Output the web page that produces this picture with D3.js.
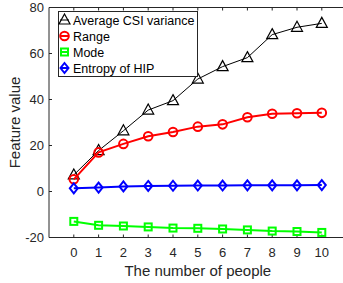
<!DOCTYPE html>
<html>
<head>
<meta charset="utf-8">
<script src="https://cdn.jsdelivr.net/npm/d3@7"></script>
<style>
    body { margin: 0; background: #fff; }
    svg { display: block; font-family: Arial, "Liberation Sans", sans-serif; }
</style>
</head>
<body>
<div id="vis"></div>
<script>
const people = [0, 1, 2, 3, 4, 5, 6, 7, 8, 9, 10];
const csiVariance = [7.2, 17.8, 26.4, 35.4, 39.5, 48.9, 54.3, 58.2, 68.2, 71.4, 73.1];
const range = [5.3, 17, 20.7, 24, 25.9, 28.2, 29.2, 32.3, 33.8, 34, 34.2];
const mode = [-13, -14.7, -15, -15.4, -15.9, -16, -16.3, -16.7, -17.2, -17.4, -17.8];
const entropy = [1.4, 1.7, 2.2, 2.4, 2.5, 2.6, 2.6, 2.7, 2.7, 2.7, 2.8];
const yTicks = [-20, 0, 20, 40, 60, 80];

const series = [
    { name: "Average CSI variance", values: csiVariance, color: "#000", width: 1, marker: "triangle" },
    { name: "Range", values: range, color: "#ff0000", width: 2, marker: "circle" },
    { name: "Mode", values: mode, color: "#00ff00", width: 2, marker: "square" },
    { name: "Entropy of HIP", values: entropy, color: "#0000ff", width: 2, marker: "diamond" }
];

const W = 343, H = 283;
const margin = { left: 49, top: 7.5, right: 0, bottom: 45.5 };
const axisColor = "#262626";

const x = d3.scaleLinear().domain([-1, 11]).range([margin.left, margin.left + 12 * 24.8]);
const y = d3.scaleLinear().domain([-20, 80]).range([H - margin.bottom, margin.top]);

const svg = d3.select("#vis").append("svg")
    .attr("width", W)
    .attr("height", H);

// axes box (right side runs off the window)
const gAxis = svg.append("g").attr("fill", "none").attr("stroke", axisColor).attr("stroke-width", 1);
gAxis.append("path")
    .attr("d", `M${x(11)},${y(80)}H${x(-1)}V${y(-20)}H${x(11)}V${y(80)}`);

// inward ticks
people.forEach(p => {
    gAxis.append("line").attr("x1", x(p)).attr("x2", x(p)).attr("y1", y(-20)).attr("y2", y(-20) - 3);
    gAxis.append("line").attr("x1", x(p)).attr("x2", x(p)).attr("y1", y(80)).attr("y2", y(80) + 3);
});
yTicks.forEach(t => {
    gAxis.append("line").attr("x1", x(-1)).attr("x2", x(-1) + 3).attr("y1", y(t)).attr("y2", y(t));
    gAxis.append("line").attr("x1", x(11)).attr("x2", x(11) - 3).attr("y1", y(t)).attr("y2", y(t));
});

// tick labels
svg.append("g").selectAll("text")
    .data(people)
    .join("text")
    .attr("x", d => x(d))
    .attr("y", y(-20) + 19)
    .attr("text-anchor", "middle")
    .attr("font-size", 13)
    .attr("fill", axisColor)
    .text(d => d);

svg.append("g").selectAll("text")
    .data(yTicks)
    .join("text")
    .attr("x", x(-1) - 5)
    .attr("y", d => y(d))
    .attr("dy", "0.35em")
    .attr("text-anchor", "end")
    .attr("font-size", 13)
    .attr("fill", axisColor)
    .text(d => d);

svg.append("text")
    .attr("x", x(5))
    .attr("y", 276)
    .attr("text-anchor", "middle")
    .attr("font-size", 15)
    .attr("fill", axisColor)
    .text("The number of people");

svg.append("text")
    .attr("transform", `translate(20,${(y(80) + y(-20)) / 2}) rotate(-90)`)
    .attr("text-anchor", "middle")
    .attr("font-size", 15)
    .attr("fill", axisColor)
    .text("Feature value");

function drawMarker(g, type, color, cx, cy) {
    if (type === "triangle") {
        g.append("path").attr("d", `M${cx},${cy - 6}L${cx + 5.5},${cy + 4}L${cx - 5.5},${cy + 4}Z`)
            .attr("fill", "none").attr("stroke", color).attr("stroke-width", 1.2);
    } else if (type === "circle") {
        g.append("circle").attr("cx", cx).attr("cy", cy).attr("r", 4.3)
            .attr("fill", "none").attr("stroke", color).attr("stroke-width", 2);
    } else if (type === "square") {
        g.append("rect").attr("x", cx - 3.5).attr("y", cy - 3.5).attr("width", 7).attr("height", 7)
            .attr("fill", "none").attr("stroke", color).attr("stroke-width", 2);
    } else {
        g.append("path").attr("d", `M${cx},${cy - 5}L${cx + 4},${cy}L${cx},${cy + 5}L${cx - 4},${cy}Z`)
            .attr("fill", "none").attr("stroke", color).attr("stroke-width", 2);
    }
}

const line = d3.line().x((d, i) => x(people[i])).y(d => y(d));

series.forEach(s => {
    const g = svg.append("g");
    g.append("path")
        .attr("d", line(s.values))
        .attr("fill", "none")
        .attr("stroke", s.color)
        .attr("stroke-width", s.width);
    s.values.forEach((v, i) => drawMarker(g, s.marker, s.color, x(people[i]), y(v)));
});

// legend
const legend = svg.append("g");
legend.append("rect")
    .attr("x", 58.5).attr("y", 11.5)
    .attr("width", 139).attr("height", 65)
    .attr("fill", "#fff")
    .attr("stroke", axisColor)
    .attr("stroke-width", 1);

series.forEach((s, i) => {
    const ly = 20 + i * 16;
    legend.append("line")
        .attr("x1", 60).attr("x2", 69).attr("y1", ly).attr("y2", ly)
        .attr("stroke", s.color).attr("stroke-width", s.width);
    drawMarker(legend, s.marker, s.color, 64.5, ly);
    legend.append("text")
        .attr("x", 73)
        .attr("y", ly)
        .attr("dy", "0.36em")
        .attr("font-size", 12.5)
        .attr("fill", "#000")
        .text(s.name);
});
</script>
</body>
</html>
